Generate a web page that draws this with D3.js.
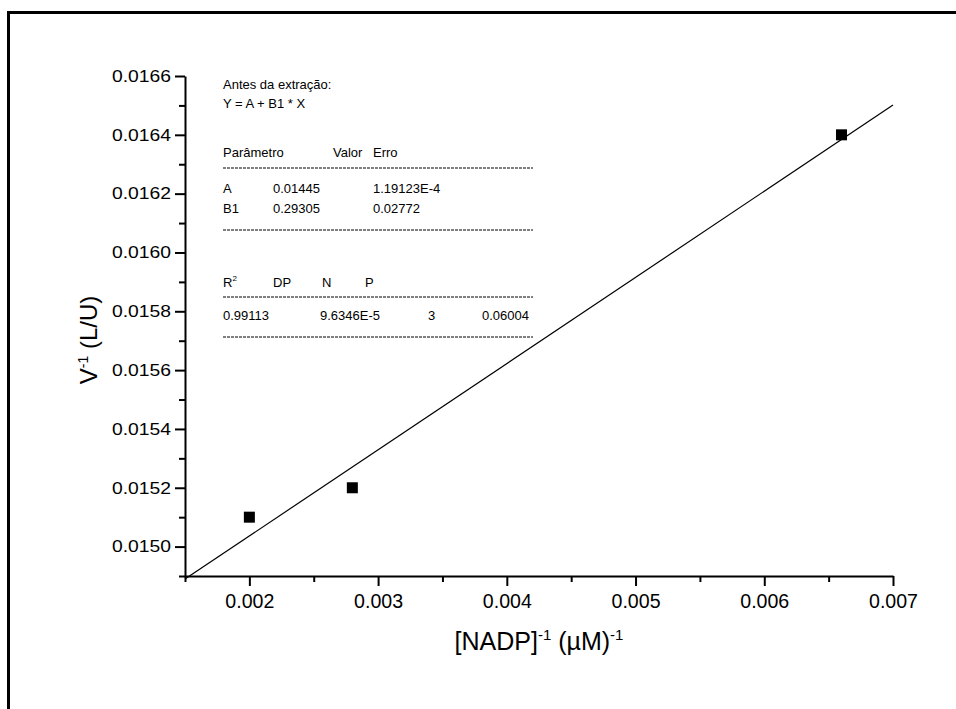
<!DOCTYPE html>
<html>
<head>
<meta charset="utf-8">
<script src="https://d3js.org/d3.v7.min.js"></script>
<style>
  body { margin: 0; background: #fff; }
  text { font-family: "Liberation Sans", Arial, sans-serif; fill: #000; }
</style>
</head>
<body>
<div id="chart"></div>
<script>
// data points
var xVals = [0.0020, 0.0028, 0.0066];
var yVals = [0.0151, 0.0152, 0.0164];

// linear fit parameters (from the annotation)
var fitA = 0.01445, fitB1 = 0.29305;
var fitRange = [0.0015, 0.0070];

var xTicks = [0.002, 0.003, 0.004, 0.005, 0.006, 0.007];
var xMinor = [0.0015, 0.0025, 0.0035, 0.0045, 0.0055, 0.0065];
var yTicks = [0.0150, 0.0152, 0.0154, 0.0156, 0.0158, 0.0160, 0.0162, 0.0164, 0.0166];
var yMinor = [0.0149, 0.0151, 0.0153, 0.0155, 0.0157, 0.0159, 0.0161, 0.0163, 0.0165];

var W = 956, H = 709;
var svg = d3.select("#chart").append("svg")
    .attr("width", W).attr("height", H);

// outer frame
svg.append("rect")
    .attr("x", 8.5).attr("y", 12.5)
    .attr("width", 1000).attr("height", 800)
    .attr("fill", "none").attr("stroke", "#000").attr("stroke-width", 3);

var x = d3.scaleLinear().domain([0.0015, 0.0070]).range([185, 893]);
var y = d3.scaleLinear().domain([0.0149, 0.0166]).range([576, 76]);

// minor ticks
svg.append("g").attr("transform", "translate(0,576)")
    .call(d3.axisBottom(x).tickValues(xMinor).tickSize(6).tickSizeOuter(0).tickFormat(""))
    .call(function(g) { g.select(".domain").remove(); g.selectAll("line").attr("stroke-width", 2); });
svg.append("g").attr("transform", "translate(185,0)")
    .call(d3.axisLeft(y).tickValues(yMinor).tickSize(6).tickSizeOuter(0).tickFormat(""))
    .call(function(g) { g.select(".domain").remove(); g.selectAll("line").attr("stroke-width", 2); });

// major axes
var gx = svg.append("g").attr("transform", "translate(0,576)")
    .call(d3.axisBottom(x).tickValues(xTicks).tickSize(10).tickSizeOuter(0).tickPadding(8).tickFormat(d3.format(".3f")));
gx.select(".domain").attr("stroke-width", 2);
gx.selectAll("line").attr("stroke-width", 2);
gx.selectAll("text")
    .attr("font-size", 20).attr("fill", "#000")
    .attr("textLength", 49).attr("lengthAdjust", "spacingAndGlyphs")
    .style("font-family", "'Liberation Sans', Arial, sans-serif");

var gy = svg.append("g").attr("transform", "translate(185,0)")
    .call(d3.axisLeft(y).tickValues(yTicks).tickSize(10).tickSizeOuter(0).tickPadding(4).tickFormat(d3.format(".4f")));
gy.select(".domain").attr("stroke-width", 2);
gy.selectAll("line").attr("stroke-width", 2);
gy.selectAll("text")
    .attr("font-size", 16.5).attr("fill", "#000")
    .attr("textLength", 59).attr("lengthAdjust", "spacingAndGlyphs")
    .style("font-family", "'Liberation Sans', Arial, sans-serif");

// fit line
svg.append("line")
    .attr("x1", x(fitRange[0])).attr("y1", y(fitA + fitB1 * fitRange[0]))
    .attr("x2", x(fitRange[1])).attr("y2", y(fitA + fitB1 * fitRange[1]))
    .attr("stroke", "#000").attr("stroke-width", 1.2);

// points
var s = 11;
svg.selectAll("rect.pt").data(xVals).enter().append("rect")
    .attr("class", "pt")
    .attr("x", function(d) { return x(d) - s / 2; })
    .attr("y", function(d, i) { return y(yVals[i]) - s / 2; })
    .attr("width", s).attr("height", s)
    .attr("fill", "#000");

// axis titles
var xt = svg.append("text").attr("x", x(0.00425)).attr("y", 650)
    .attr("text-anchor", "middle").attr("font-size", 25);
xt.append("tspan").text("[NADP]");
xt.append("tspan").attr("dy", -10).attr("font-size", 15).text("-1");
xt.append("tspan").attr("dy", 10).text(" (\u00b5M)");
xt.append("tspan").attr("dy", -10).attr("font-size", 15).text("-1");

var yt = svg.append("text")
    .attr("transform", "translate(97,340) rotate(-90)")
    .attr("text-anchor", "middle").attr("font-size", 24);
yt.append("tspan").text("V");
yt.append("tspan").attr("dy", -9).attr("font-size", 14).text("-1");
yt.append("tspan").attr("dy", 9).text(" (L/U)");

// fit annotation
var ann = svg.append("g").attr("font-size", 13);
function label(tx, ty, str) {
  return ann.append("text").attr("x", tx).attr("y", ty).text(str);
}
label(223, 89, "Antes da extra\u00e7\u00e3o:");
label(223, 108, "Y = A + B1 * X");
label(223, 157, "Par\u00e2metro");
label(333, 157, "Valor");
label(373, 157, "Erro");
label(223, 193, "A");
label(273, 193, "0.01445");
label(373, 193, "1.19123E-4");
label(223, 213, "B1");
label(273, 213, "0.29305");
label(373, 213, "0.02772");
var r2 = label(223, 287, "R");
r2.append("tspan").attr("dy", -6).attr("font-size", 8).text("2");
label(273, 287, "DP");
label(322, 287, "N");
label(365, 287, "P");
label(223, 320, "0.99113");
label(320, 320, "9.6346E-5");
label(428, 320, "3");
label(482, 320, "0.06004");

[168, 230, 297, 337].forEach(function(ly) {
  ann.append("line")
      .attr("x1", 223).attr("x2", 533).attr("y1", ly).attr("y2", ly)
      .attr("stroke", "#000").attr("stroke-width", 1)
      .attr("stroke-dasharray", "3,1");
});
</script>
</body>
</html>
